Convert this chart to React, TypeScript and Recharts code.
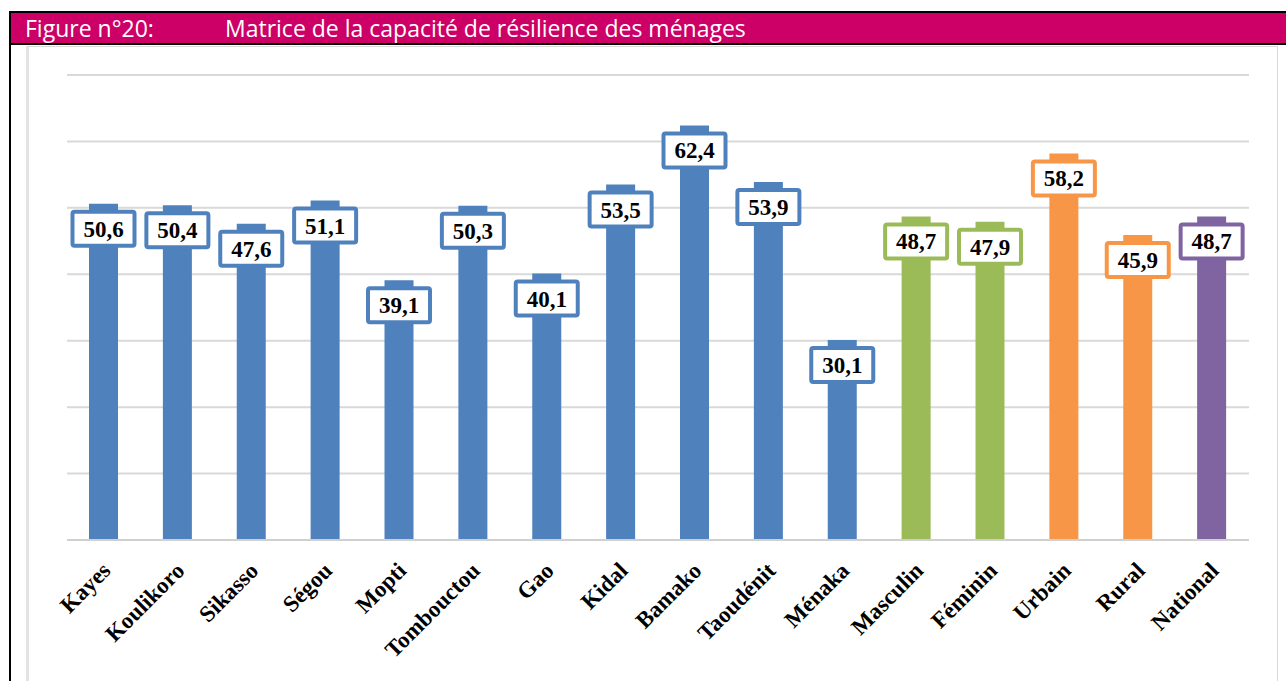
import React from 'react';
import { BarChart, Bar, XAxis, YAxis, CartesianGrid, Cell, LabelList } from 'recharts';

// categories and values
const categories: string[] = [
  'Kayes', 'Koulikoro', 'Sikasso', 'Ségou', 'Mopti', 'Tombouctou', 'Gao', 'Kidal',
  'Bamako', 'Taoudénit', 'Ménaka', 'Masculin', 'Féminin', 'Urbain', 'Rural', 'National',
];
const scores: number[] = [
  50.6, 50.4, 47.6, 51.1, 39.1, 50.3, 40.1, 53.5, 62.4, 53.9, 30.1, 48.7, 47.9, 58.2, 45.9, 48.7,
];
const groups: string[] = [
  'region', 'region', 'region', 'region', 'region', 'region', 'region', 'region',
  'region', 'region', 'region', 'sexe', 'sexe', 'milieu', 'milieu', 'national',
];
const yTicks: number[] = [0, 10, 20, 30, 40, 50, 60, 70];

const GROUP_COLORS: Record<string, string> = {
  region: '#4F81BD',
  sexe: '#9BBB59',
  milieu: '#F79646',
  national: '#8064A2',
};

const data = categories.map((name, i) => ({ name, value: scores[i], group: groups[i] }));

const fmt = (v: number) => v.toFixed(1).replace('.', ',');

// boxed value label sitting just under the top of each bar
const ValueBox = (props: any) => {
  const { x, y, width, value, index } = props;
  const cx = x + width / 2;
  const color = GROUP_COLORS[groups[index]];
  const w = 62;
  const h = 34;
  return (
    <g>
      <rect x={cx - w / 2} y={y + 8} width={w} height={h} rx={2} fill="#fff" stroke={color} strokeWidth={4} />
      <text
        x={cx}
        y={y + 8 + h / 2 + 8}
        textAnchor="middle"
        fontFamily="'Liberation Serif', 'Times New Roman', serif"
        fontWeight="bold"
        fontSize={23}
        fill="#000"
      >
        {fmt(value)}
      </text>
    </g>
  );
};

const SlantTick = (props: any) => {
  const { x, y, payload } = props;
  const ax = x + 8;
  const ay = y + 24;
  return (
    <text
      x={ax}
      y={ay}
      textAnchor="end"
      transform={`rotate(-45, ${ax}, ${ay})`}
      fontFamily="'Liberation Serif', 'Times New Roman', serif"
      fontWeight="bold"
      fontSize={23}
      fill="#000"
    >
      {payload.value}
    </text>
  );
};

const App: React.FC = () => {
  return (
    <div style={{ position: 'fixed', left: 0, top: 0, width: 1286, height: 681, background: '#fff', overflow: 'hidden' }}>
      {/* figure header */}
      <div
        style={{
          position: 'absolute',
          left: 9,
          top: 11,
          width: 1277,
          height: 30,
          background: '#CC0066',
          borderTop: '2px solid #000',
          borderBottom: '2px solid #000',
          color: '#fff',
          fontFamily: "'Open Sans', 'Noto Sans', sans-serif",
          fontSize: 23,
          lineHeight: '30px',
        }}
      >
        <span style={{ position: 'absolute', left: 16, top: 0 }}>Figure n°20:</span>
        <span style={{ position: 'absolute', left: 216, top: 0 }}>Matrice de la capacité de résilience des ménages</span>
      </div>
      {/* left rule of the figure box */}
      <div style={{ position: 'absolute', left: 9, top: 11, width: 2, height: 670, background: '#000' }} />
      {/* chart frame */}
      <div
        style={{
          position: 'absolute',
          left: 26,
          top: 46,
          width: 1252,
          height: 660,
          border: '1px solid #d9d9d9',
          borderLeft: '3px solid #e3e3e3',
          boxSizing: 'border-box',
        }}
      />
      <div style={{ position: 'absolute', left: 0, top: 0 }}>
        <BarChart
          width={1286}
          height={681}
          data={data}
          margin={{ top: 75, right: 37, bottom: 0, left: 67 }}
        >
          <CartesianGrid vertical={false} stroke="#d9d9d9" strokeWidth={2} />
          <YAxis hide domain={[0, 70]} ticks={yTicks} />
          <XAxis
            dataKey="name"
            interval={0}
            axisLine={{ stroke: '#d0d0d0', strokeWidth: 2 }}
            tickLine={false}
            tick={<SlantTick />}
            height={141}
          />
          <Bar dataKey="value" barSize={29} isAnimationActive={false}>
            {data.map((d, i) => (
              <Cell key={`c-${i}`} fill={GROUP_COLORS[d.group]} />
            ))}
            <LabelList dataKey="value" content={<ValueBox />} />
          </Bar>
        </BarChart>
      </div>
    </div>
  );
};

export default App;
